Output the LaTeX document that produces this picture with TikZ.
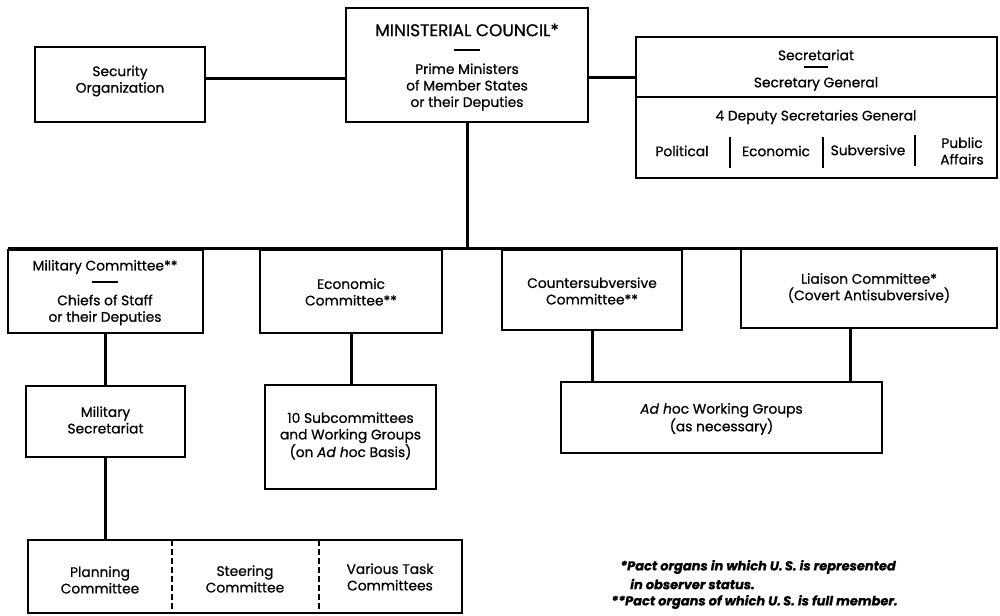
\documentclass[tikz,border=0pt]{standalone}
\usepackage{fontspec}
\setmainfont{Poppins}[FakeBold=0.7]
\begin{document}
\begin{tikzpicture}[x=1pt,y=-1pt,
  box/.style={draw,line width=1.5pt,inner sep=0pt,rectangle},
  conn/.style={line width=3pt},
  txt/.style={align=center,inner sep=0pt,font=\fontsize{13.8}{16.5}\selectfont},
  ttl/.style={line width=2pt},
  sep/.style={line width=1.3pt},
  foot/.style={anchor=west,inner sep=0pt,font=\fontsize{13}{15}\selectfont\bfseries\itshape}]
\fill[white] (0,0) rectangle (1000,615);
\useasboundingbox (0,0) rectangle (1000,615);
% boxes
\node[box,minimum width=170pt,minimum height=75pt] (so) at (120,84.5) {};
\node[box,minimum width=242pt,minimum height=114pt] (mc) at (467,65) {};
\node[box,minimum width=361pt,minimum height=141pt] (secr) at (816.5,107.5) {};
\node[box,minimum width=195pt,minimum height=83pt] (milc) at (105.5,291.5) {};
\node[box,minimum width=182pt,minimum height=83pt] (ecoc) at (351,291.5) {};
\node[box,minimum width=180pt,minimum height=80pt] (csc) at (592,290) {};
\node[box,minimum width=256pt,minimum height=80pt] (liac) at (869,288) {};
\node[box,minimum width=159pt,minimum height=71pt] (milsec) at (105.5,421.5) {};
\node[box,minimum width=171pt,minimum height=104pt] (sub) at (350.5,437) {};
\node[box,minimum width=321pt,minimum height=71pt] (adhoc) at (721.5,417.5) {};
\node[box,minimum width=434pt,minimum height=73pt] (tri) at (245,576.5) {};
% texts
\node[txt] (so-t) at (120,81) {Security\\Organization};
\node[txt,font=\fontsize{17}{19}\selectfont] (mc-t1) at (467,30) {MINISTERIAL COUNCIL*};
\coordinate (mc-d) at (467,50);
\draw[ttl] ([xshift=-13pt]mc-d) -- ([xshift=13pt]mc-d);
\node[txt] (mc-t2) at (467,87) {Prime Ministers\\of Member States\\or their Deputies};
\node[txt] (secr-t1) at (816,55) {Secretariat};
\coordinate (secr-d) at (816,67);
\draw[ttl] ([xshift=-12pt]secr-d) -- ([xshift=12pt]secr-d);
\node[txt] (secr-t2) at (816,84) {Secretary General};
\draw[sep] (secr.west |- 0,97) -- (secr.east |- 0,97);
\node[txt] (secr-t3) at (816,117) {4 Deputy Secretaries General};
\node[txt] (pol) at (682,151) {Political};
\node[txt] (eco) at (776,151) {Economic};
\node[txt] (sub-t) at (868,150) {Subversive};
\node[txt] (pub) at (962,151) {Public\\Affairs};
\draw[sep] (730,137) -- (730,168);
\draw[sep] (823,137) -- (823,168);
\draw[sep] (915,135) -- (915,166);
\node[txt] (milc-t1) at (105,267) {Military Committee**};
\coordinate (milc-d) at (105,282);
\draw[ttl] ([xshift=-13pt]milc-d) -- ([xshift=13pt]milc-d);
\node[txt] (milc-t2) at (105,310) {Chiefs of Staff\\or their Deputies};
\node[txt] (ecoc-t) at (351,292) {Economic\\Committee**};
\node[txt] (csc-t) at (592,291) {Countersubversive\\Committee**};
\node[txt] (liac-t) at (869,288) {Liaison Committee*\\(Covert Antisubversive)};
\node[txt] (milsec-t) at (105.5,420) {Military\\Secretariat};
\node[txt] (sub-t2) at (350.5,436) {10 Subcommittees\\and Working Groups\\(on \textit{Ad h}oc Basis)};
\node[txt] (adhoc-t) at (721.5,419) {\textit{Ad h}oc Working Groups\\(as necessary)};
\node[txt] (plan) at (100,580) {Planning\\Committee};
\node[txt] (steer) at (245,579) {Steering\\Committee};
\node[txt] (task) at (390,577) {Various Task\\Committees};
\draw[sep,dash pattern=on 6pt off 3pt] (172,540) -- (172,613);
\draw[sep,dash pattern=on 6pt off 3pt] (319,540) -- (319,613);
% footnotes
\node[foot] (f1) at (620,567) {*Pact organs in which U.\,S. is represented};
\node[foot] (f2) at (630,584) {in observer status.};
\node[foot] (f3) at (611,602) {**Pact organs of which U.\,S. is full member.};
% connectors
\draw[conn] ([yshift=5.5pt]so.east) -- ([yshift=5.5pt]so.east -| mc.west);
\draw[conn] ([yshift=-13pt]mc.east) -- ([yshift=-13pt]mc.east -| secr.west);
\coordinate (busL) at (8,248);
\coordinate (busR) at (997,248);
\draw[conn] (mc.south) -- (mc.south |- busL);
\draw[conn] (busL) -- (busR);
\draw[conn] (milc.south) -- (milsec.north);
\draw[conn] (ecoc.south) -- (ecoc.south |- sub.north);
\draw[conn] (csc.south) -- (csc.south |- adhoc.north);
\draw[conn] ([xshift=-19pt]liac.south) -- ([xshift=-19pt]liac.south |- adhoc.north);
\draw[conn] (milsec.south) -- (milsec.south |- tri.north);
\end{tikzpicture}
\end{document}
